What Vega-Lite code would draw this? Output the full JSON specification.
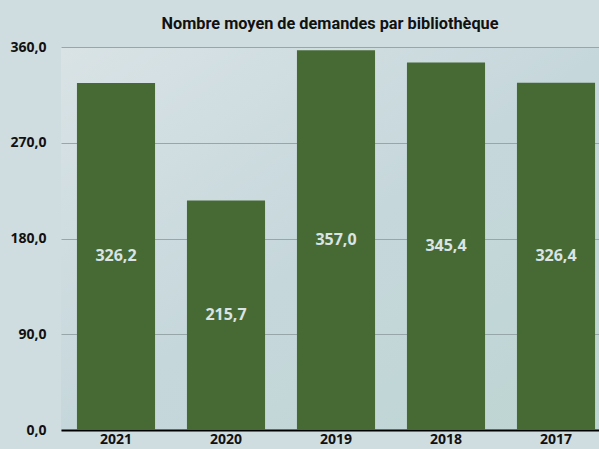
{
  "$schema": "https://vega.github.io/schema/vega-lite/v6.json",
  "autosize": {"type": "none"},
  "width": 550,
  "height": 383,
  "padding": {"left": 61, "top": 47, "right": 0, "bottom": 19},
  "background": "#d0dde0",
  "config": {
    "locale": {"number": {"decimal": ",", "thousands": " ", "grouping": [3], "currency": ["", " €"]}},
    "view": {"stroke": null, "fill": {"gradient": "linear", "x1": 0, "y1": 0, "x2": 1, "y2": 1, "stops": [{"offset": 0, "color": "#d9e3e6"}, {"offset": 0.5, "color": "#c6d7db"}, {"offset": 1, "color": "#bdd5d2"}]}},
    "font": "Open Sans"
  },
  "title": {
    "text": "Nombre moyen de demandes par bibliothèque",
    "font": "Roboto",
    "fontSize": 16.3,
    "fontWeight": "bold",
    "color": "#111111",
    "anchor": "middle",
    "dx": -6,
    "offset": 8
  },
  "data": {
    "values": [
      {"year": "2021", "value": 326.2},
      {"year": "2020", "value": 215.7},
      {"year": "2019", "value": 357.0},
      {"year": "2018", "value": 345.4},
      {"year": "2017", "value": 326.4}
    ]
  },
  "encoding": {
    "x": {
      "field": "year", "type": "nominal", "sort": null,
      "scale": {"paddingInner": 0.29, "paddingOuter": 0.145},
      "axis": {"title": null, "labelAngle": 0, "ticks": false, "domainColor": "#000000", "domainWidth": 2, "labelFont": "Open Sans", "labelFontWeight": "bold", "labelFontSize": 14, "labelColor": "#111111", "labelPadding": 2}
    }
  },
  "layer": [
    {
      "mark": {"type": "bar", "color": "#476a35"},
      "encoding": {
        "y": {
          "field": "value", "type": "quantitative",
          "scale": {"domain": [0, 360], "nice": false},
          "axis": {"title": null, "values": [0, 90, 180, 270, 360], "format": ".1f", "domain": false, "ticks": false, "gridColor": "#97a6a8", "gridWidth": 1, "labelFont": "Open Sans", "labelFontWeight": "bold", "labelFontSize": 14, "labelColor": "#111111", "labelPadding": 15}
        }
      }
    },
    {
      "transform": [{"calculate": "datum.value / 2", "as": "mid"}],
      "mark": {"type": "text", "font": "Open Sans", "fontWeight": "bold", "fontSize": 16, "color": "#dbe4e5", "baseline": "middle"},
      "encoding": {
        "y": {"field": "mid", "type": "quantitative"},
        "text": {"field": "value", "type": "quantitative", "format": ".1f"}
      }
    }
  ]
}
